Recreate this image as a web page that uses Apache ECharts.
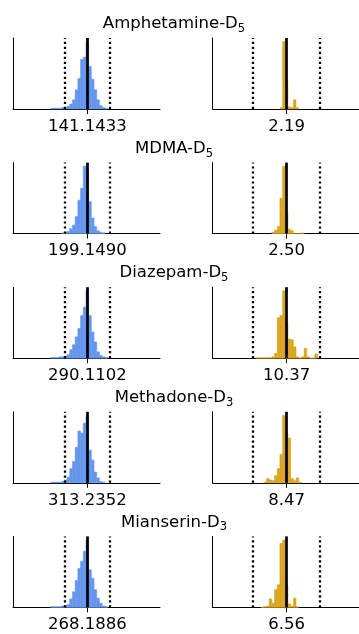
<!DOCTYPE html>
<html>
<head>
<meta charset="utf-8">
<script src="https://cdn.jsdelivr.net/npm/echarts@6/dist/echarts.min.js"></script>
<style>
  html, body { margin: 0; padding: 0; background: #fff; }
  #chart { width: 359px; height: 634px; }
</style>
</head>
<body>
<div id="chart"></div>
<script>
// compound names, deuterium subscripts
const names = ['Amphetamine', 'MDMA', 'Diazepam', 'Methadone', 'Mianserin'];
const subs = ['5', '5', '5', '3', '3'];

// tick labels under each panel (m/z left, retention time right)
const massLabels = ['141.1433', '199.1490', '290.1102', '313.2352', '268.1886'];
const rtLabels = ['2.19', '2.50', '10.37', '8.47', '6.56'];

// histogram counts, relative to panel height; *Start = index of first bin
const amphMassStart = -13;
const amphMass = [0.01, 0.01, 0.01, 0.01, 0.02, 0.02, 0.04, 0.07, 0.13, 0.27, 0.43, 0.70, 0.73, 0.95, 0.60, 0.42, 0.27, 0.13, 0.05, 0.02, 0.01];
const mdmaMassStart = -9;
const mdmaMass = [0.01, 0.02, 0.03, 0.07, 0.12, 0.24, 0.47, 0.64, 0.95, 0.90, 0.45, 0.22, 0.10, 0.04, 0.02, 0.01];
const diazMassStart = -13;
const diazMass = [0.01, 0.01, 0.01, 0.02, 0.02, 0.03, 0.05, 0.12, 0.19, 0.30, 0.42, 0.60, 0.72, 0.95, 0.60, 0.37, 0.23, 0.09, 0.04, 0.02, 0.01];
const methMassStart = -13;
const methMass = [0.01, 0.01, 0.01, 0.01, 0.02, 0.04, 0.08, 0.20, 0.30, 0.50, 0.73, 0.70, 0.84, 0.95, 0.46, 0.32, 0.15, 0.07, 0.02, 0.01];
const mianMassStart = -13;
const mianMass = [0.01, 0.01, 0.01, 0.01, 0.02, 0.03, 0.04, 0.12, 0.22, 0.38, 0.55, 0.65, 0.79, 0.95, 0.53, 0.41, 0.25, 0.13, 0.06, 0.02, 0.01];

const amphRtStart = -2;
const amphRt = [0.02, 0.95, 0.40, 0.03, 0.02, 0.13, 0.02];
const mdmaRtStart = -5;
const mdmaRt = [0.02, 0.05, 0.10, 0.50, 0.95, 0.30, 0.06, 0.04, 0, 0, 0, 0.01];
const diazRtStart = -11;
const diazRt = [0.006, 0.006, 0.006, 0.006, 0.006, 0.006, 0.02, 0.07, 0.57, 0.60, 0.95, 0.50, 0.27, 0.26, 0.16, 0.02, 0, 0.02, 0.14, 0.02, 0, 0, 0.06];
const methRtStart = -8;
const methRt = [0.01, 0.06, 0.04, 0.03, 0.10, 0.20, 0.40, 0.95, 0.70, 0.63, 0.06, 0.03, 0.07, 0.01];
const mianRtStart = -9;
const mianRt = [0.006, 0.01, 0.02, 0.12, 0.06, 0.25, 0.32, 0.90, 0.95, 0.30, 0.05, 0.02, 0.13, 0.01];

const massHists = [amphMass, mdmaMass, diazMass, methMass, mianMass];
const massStarts = [amphMassStart, mdmaMassStart, diazMassStart, methMassStart, mianMassStart];
const rtHists = [amphRt, mdmaRt, diazRt, methRt, mianRt];
const rtStarts = [amphRtStart, mdmaRtStart, diazRtStart, methRtStart, mianRtStart];

const binWidth = 1.2;
const massLimit = 10;   // dotted tolerance lines
const rtLimit = 15;
const xMin = -33, xMax = 32.3;

const BLUE = '#6495ED';
const GOLD = '#DAA520';
const FONT = 'DejaVu Sans';

const chart = echarts.init(document.getElementById('chart'), null, { renderer: 'canvas' });

function toBins(heights, start) {
  return heights.map((h, i) => {
    const c = (start + i) * binWidth;
    return [c - binWidth / 2, c + binWidth / 2, h];
  });
}

function renderBar(params, api) {
  const p0 = api.coord([api.value(0), api.value(2)]);
  const p1 = api.coord([api.value(1), 0]);
  const color = api.visual('color');
  return {
    type: 'rect',
    shape: { x: p0[0], y: p0[1], width: p1[0] - p0[0], height: p1[1] - p0[1] },
    style: { fill: color, stroke: color, lineWidth: 0.5 }
  };
}

const grids = [], xAxes = [], yAxes = [], series = [], graphics = [];

for (let i = 0; i < 5; i++) {
  const top = 38 + i * 124.6;
  [0, 1].forEach(col => {
    const idx = i * 2 + col;
    grids.push({ left: col === 0 ? 13 : 212.7, top: top, width: 147, height: 71 });
    xAxes.push({
      gridIndex: idx, type: 'value', min: xMin, max: xMax,
      axisLine: { show: true, onZero: false, lineStyle: { color: '#000', width: 1 } },
      axisTick: { show: true, customValues: [0], length: 5, lineStyle: { color: '#000', width: 1 } },
      axisLabel: {
        show: true, customValues: [0], margin: 9,
        formatter: () => (col === 0 ? massLabels[i] : rtLabels[i]),
        color: '#000', fontSize: 16.5, fontFamily: FONT
      },
      splitLine: { show: false }
    });
    yAxes.push({
      gridIndex: idx, type: 'value', min: 0, max: 1,
      axisLine: { show: true, onZero: false, lineStyle: { color: '#000', width: 1 } },
      axisTick: { show: false }, axisLabel: { show: false }, splitLine: { show: false }
    });
    const lim = col === 0 ? massLimit : rtLimit;
    const dotted = { color: '#000', width: 2.3, type: [2.2, 2.8] };
    series.push({
      type: 'custom',
      xAxisIndex: idx, yAxisIndex: idx,
      renderItem: renderBar,
      encode: { x: [0, 1], y: 2 },
      itemStyle: { color: col === 0 ? BLUE : GOLD },
      data: col === 0 ? toBins(massHists[i], massStarts[i]) : toBins(rtHists[i], rtStarts[i]),
      silent: true,
      markLine: {
        silent: true, symbol: ['none', 'none'], label: { show: false },
        data: [
          { xAxis: -lim, lineStyle: dotted },
          { xAxis: lim, lineStyle: dotted },
          { xAxis: 0, lineStyle: { color: '#000', width: 2.7, type: 'solid' } }
        ]
      }
    });
  });
  graphics.push({
    type: 'text', x: 174, y: top - 14,
    style: {
      text: '{n|' + names[i] + '-D}{s|' + subs[i] + '}',
      align: 'center', verticalAlign: 'middle',
      rich: {
        n: { fontSize: 16.5, fontFamily: FONT, lineHeight: 22, fill: '#000' },
        s: { fontSize: 11.5, fontFamily: FONT, lineHeight: 14, verticalAlign: 'bottom', fill: '#000' }
      }
    }
  });
}

chart.setOption({
  animation: false,
  backgroundColor: '#fff',
  grid: grids,
  xAxis: xAxes,
  yAxis: yAxes,
  series: series,
  graphic: graphics
});
</script>
</body>
</html>
